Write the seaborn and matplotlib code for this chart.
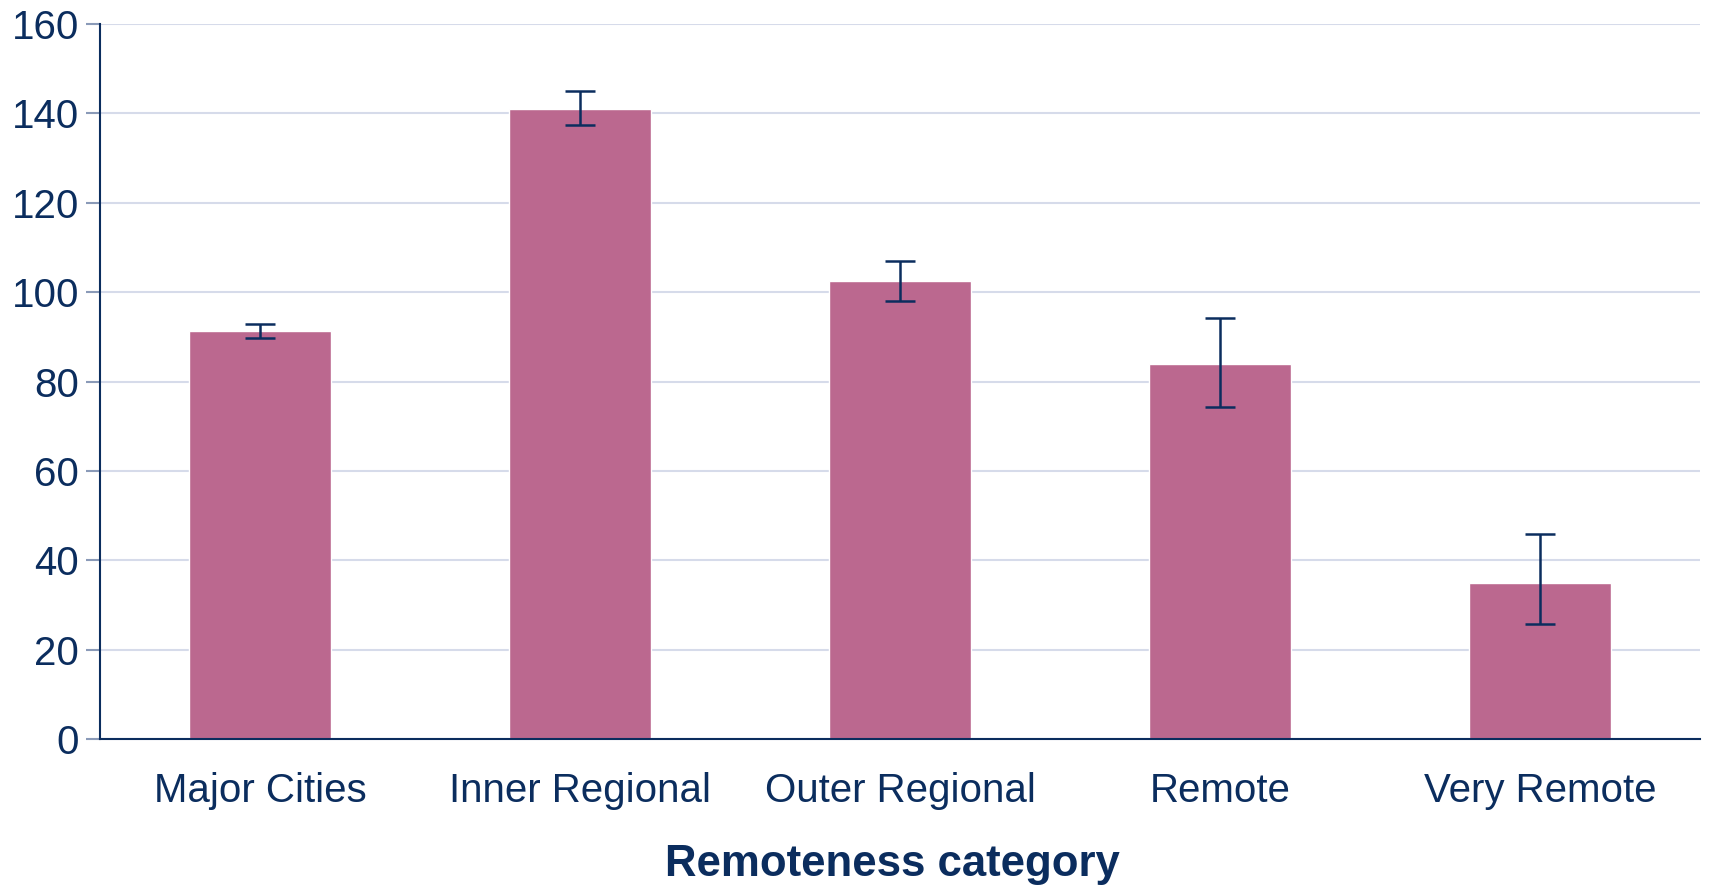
import numpy as np
import pandas as pd
import matplotlib.pyplot as plt
import seaborn as sns

categories = ["Major Cities", "Inner Regional", "Outer Regional", "Remote", "Very Remote"]
rates = [91.2, 141.0, 102.6, 83.9, 35.0]
ci_low = [89.7, 137.4, 98.1, 74.2, 25.8]
ci_high = [92.9, 144.9, 107.0, 94.2, 45.9]

navy = "#0B2D5E"
bar_col = "#BB688F"
grid_col = "#D6DBEA"

sns.set_theme(style="white")
plt.rcParams['font.family'] = ['Liberation Sans', 'DejaVu Sans']

df = pd.DataFrame({"cat": categories, "rate": rates})

fig = plt.figure(figsize=(17.09, 8.86), dpi=100)
ax = fig.add_axes([0.0585, 0.1659, 0.9362, 0.807])

sns.barplot(data=df, x="cat", y="rate", color=bar_col, saturation=1,
            width=0.445, errorbar=None, ax=ax, zorder=2)

# asymmetric confidence intervals
yerr = np.array([np.array(rates) - np.array(ci_low), np.array(ci_high) - np.array(rates)])
ax.errorbar(np.arange(len(categories)), rates, yerr=yerr, fmt="none",
            ecolor=navy, elinewidth=1.8, capsize=11, capthick=1.8, zorder=3)

ax.set_xlim(-0.5, 4.5)
ax.set_ylim(0, 160)
ax.set_yticks(np.arange(0, 161, 20))
ax.yaxis.grid(True, color=grid_col, linewidth=1.5, zorder=0)
ax.set_axisbelow(True)

for s in ["top", "right"]:
    ax.spines[s].set_visible(False)
for s in ["left", "bottom"]:
    ax.spines[s].set_color(navy)
    ax.spines[s].set_linewidth(1.5)

ax.tick_params(axis="y", which="major", left=True, length=10, width=1.5,
               color="#8A9AB8", labelsize=29, labelcolor=navy, pad=5)
ax.tick_params(axis="x", bottom=False, labelsize=29, labelcolor=navy, pad=18)

ax.set_ylabel("")
ax.set_xlabel("Remoteness category", fontsize=31.5, fontweight="bold", color=navy, labelpad=24)
ax.xaxis.label.set_x(0.495)

fig.savefig("out.png", dpi=100)
